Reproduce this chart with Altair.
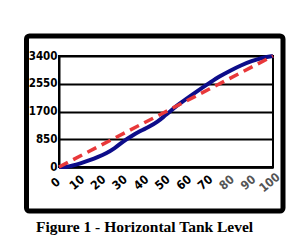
import altair as alt
import pandas as pd

level = [0, 3, 6, 10, 14, 18, 22, 26, 30, 34, 38, 42, 46, 50, 55, 60, 65, 70, 75, 80, 85, 90, 95, 100]
actual = [0, 0, 40, 110, 200, 300, 420, 580, 780, 950, 1100, 1230, 1390, 1600, 1870, 2110, 2340, 2560, 2770, 2950, 3110, 3240, 3340, 3400]
linear_level = [0, 100]
linear_vol = [0, 3400]
y_ticks = [0, 850, 1700, 2550, 3400]
x_ticks = [0, 10, 20, 30, 40, 50, 60, 70, 80, 90, 100]

df_a = pd.DataFrame({"level": level, "vol": actual})
df_l = pd.DataFrame({"level": linear_level, "vol": linear_vol})

xs = alt.Scale(domain=[0, 100], nice=False)
ys = alt.Scale(domain=[0, 3400], nice=False)

FONT = "DejaVu Sans Condensed, Roboto Condensed, Arial Narrow, sans-serif"

xaxis = alt.Axis(values=x_ticks, labelAngle=320, labelFont=FONT, format="d",
                 labelFontWeight="bold", labelFontSize=12, labelAlign="center",
                 labelBaseline="middle", labelPadding=15, labelOffset=-4,
                 ticks=False, grid=False,
                 labelOverlap=False, labelBound=False, labelFlush=False,
                 domain=True, domainColor="#000000", domainWidth=2.5, title=None,
                 labelColor=alt.expr("datum.value >= 80 ? '#555555' : '#000000'"))
yaxis = alt.Axis(values=y_ticks, labelFont=FONT, labelFontWeight="bold", format="d",
                 labelFontSize=11.5, labelColor="#000000", ticks=False, labelPadding=2,
                 labelOverlap=False, labelBound=False, labelFlush=False,
                 grid=True, gridColor="#000000", gridWidth=2, gridOpacity=1,
                 domain=True, domainColor="#000000", domainWidth=2, title=None)

frame = alt.Chart(pd.DataFrame({"a": [0]})).mark_rect(
    fill=None, stroke="#000000", strokeWidth=5, cornerRadius=3, clip=False
).encode(x=alt.value(-32.5), x2=alt.value(224), y=alt.value(-20), y2=alt.value(155))

blue = alt.Chart(df_a).mark_line(color="#0d0d8a", strokeWidth=4, interpolate="monotone").encode(
    x=alt.X("level:Q", scale=xs, axis=xaxis),
    y=alt.Y("vol:Q", scale=ys, axis=yaxis),
)
red = alt.Chart(df_l).mark_line(color="#e8383a", strokeWidth=3.5, strokeDash=[10, 6]).encode(
    x=alt.X("level:Q", scale=xs, axis=xaxis),
    y=alt.Y("vol:Q", scale=ys, axis=yaxis),
)

chart = alt.layer(frame, blue, red).properties(
    width=214, height=111,
    background="#ffffff",
    autosize=alt.AutoSizeParams(type="none"),
    padding={"left": 59, "top": 56, "right": 29, "bottom": 74},
    title=alt.TitleParams("Figure 1 - Horizontal Tank Level", orient="bottom", anchor="start",
                          frame="group",
                          font="Liberation Serif", fontWeight="bold", fontSize=15.5,
                          color="#000000", dx=-23, offset=6),
).configure_view(stroke="#000000", strokeWidth=2, strokeOpacity=1)

chart.save("out.html", embed_options={"renderer": "svg", "actions": False})
